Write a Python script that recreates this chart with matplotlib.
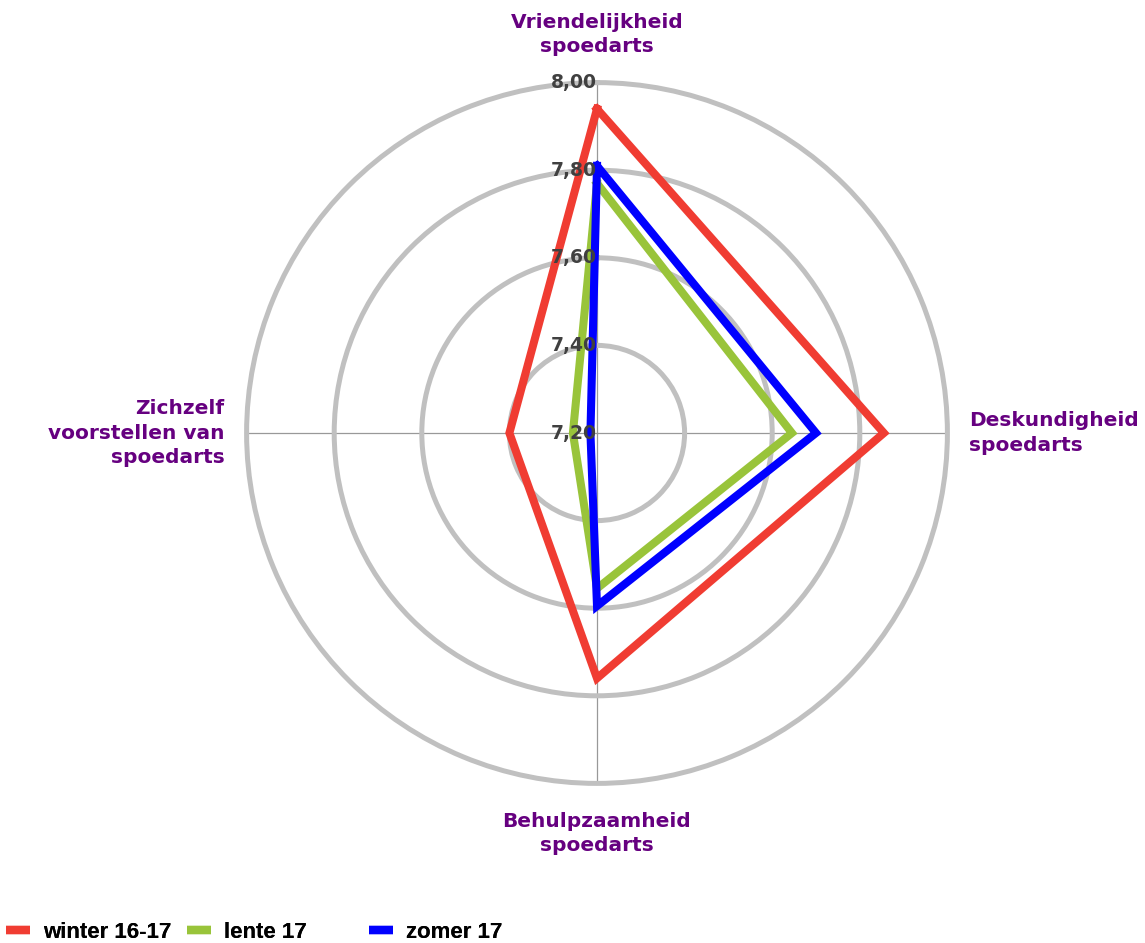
import numpy as np
import matplotlib.pyplot as plt
from matplotlib.lines import Line2D

categories = ['Vriendelijkheid\nspoedarts', 'Deskundigheid\nspoedarts',
              'Behulpzaamheid\nspoedarts', 'Zichzelf\nvoorstellen van\nspoedarts']
series_names = ['winter 16-17', 'lente 17', 'zomer 17']
winter = [7.94, 7.855, 7.76, 7.40]
lente = [7.77, 7.645, 7.555, 7.255]
zomer = [7.81, 7.70, 7.595, 7.215]
r_ticks = [7.20, 7.40, 7.60, 7.80, 8.00]
tick_labels = ['7,20', '7,40', '7,60', '7,80', '8,00']

colors = ['#F03C32', '#99C43A', '#0000FF']
purple = '#660080'

fig = plt.figure(figsize=(11.45, 9.43), dpi=100)
rmin, rmax = 7.2, 8.0
px_per_unit = 438
R = (rmax - rmin) * px_per_unit
cx, cy = 597, 943 - 433
ax = fig.add_axes([(cx - R) / 1145, (cy - R) / 943, 2 * R / 1145, 2 * R / 943],
                  projection='polar')
ax.set_theta_zero_location('N')
ax.set_theta_direction(-1)
ax.set_ylim(rmin, rmax)

angles = np.linspace(0, 2 * np.pi, len(categories), endpoint=False)

ax.set_xticks(angles)
ax.set_xticklabels([])
ax.set_yticks(r_ticks[1:])
ax.set_yticklabels([])
ax.spines['polar'].set_visible(False)
ax.yaxis.grid(True, color='#C0C0C0', lw=3.6)
ax.xaxis.grid(True, color='#999999', lw=0.9)
for gl in ax.yaxis.get_gridlines():
    gl.set_clip_on(False)
ax.tick_params(length=0)

for vals, c, name in zip([winter, lente, zomer], colors, series_names):
    th = np.append(angles, angles[0])
    rr = np.append(vals, vals[0])
    ax.plot(th, rr, color=c, lw=5.8, solid_joinstyle='miter', label=name, zorder=3)

for v, lab in zip(r_ticks, tick_labels):
    ax.text(0, v, lab, ha='right', va='center', fontsize=13.5,
            fontweight='bold', color='#404040', family='DejaVu Sans', zorder=5)

# category labels
lab_r = [8.11, 8.05, 8.115, 8.05]
lab_ha = ['center', 'left', 'center', 'right']
for a, txt, r, ha in zip(angles, categories, lab_r, lab_ha):
    ax.text(a, r, txt, ha=ha, va='center', fontsize=14.5, fontweight='bold',
            color=purple, clip_on=False, linespacing=1.35)

# legend: three equally spaced entries
leg_x = [(7 - 17) / 1145, (188 - 17) / 1145, (370 - 17) / 1145]
for x, c, name in zip(leg_x, colors, series_names):
    leg = fig.legend([Line2D([0], [0], color=c, lw=6, solid_capstyle='butt')], [name],
                     loc='lower left', bbox_to_anchor=(x, -0.016), frameon=False,
                     borderaxespad=0.3, handlelength=1.1, handletextpad=0.6,
                     prop={'family': 'Liberation Sans', 'weight': 'bold', 'size': 16})
    fig.add_artist(leg)

fig.savefig('out.png', dpi=100)
